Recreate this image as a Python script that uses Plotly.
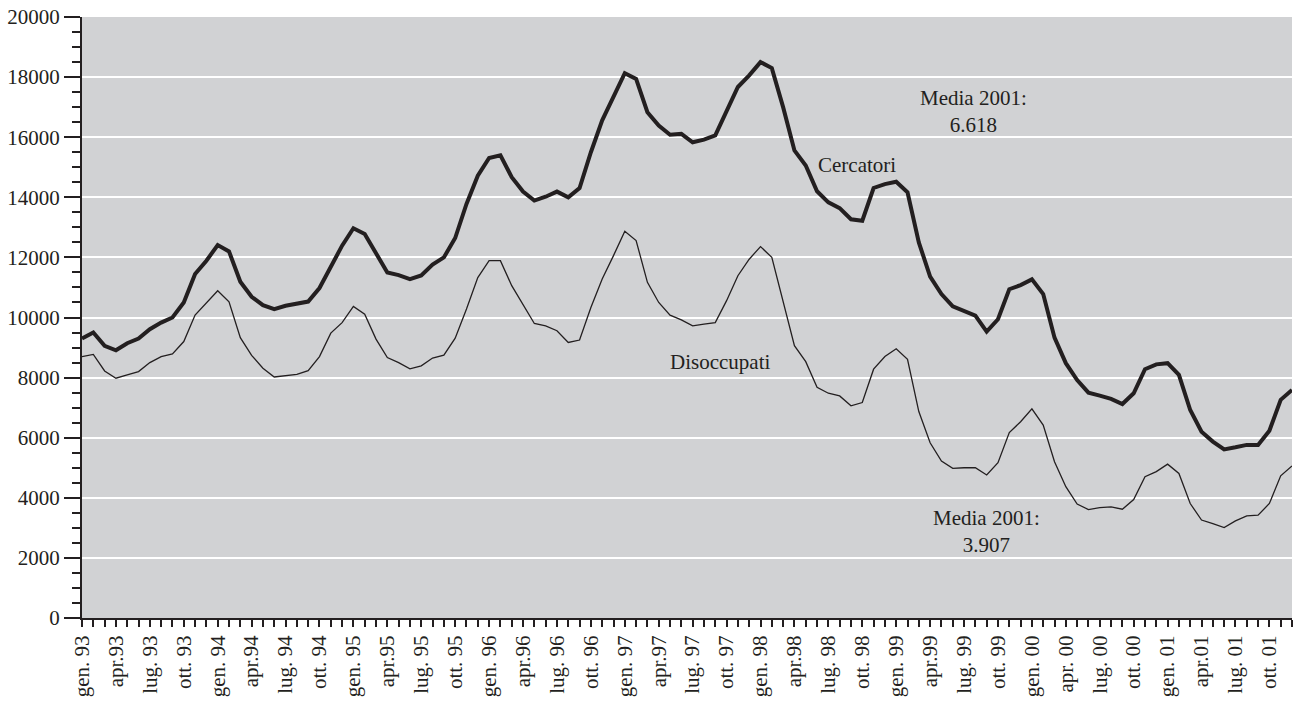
import plotly.graph_objects as go

# Monthly data, gen. 1993 - dic. 2001
cercatori = [
    9300, 9500, 9055, 8910, 9145, 9300, 9610, 9830, 10000, 10500, 11445, 11890,
    12410, 12200, 11190, 10690, 10410, 10280, 10390, 10445, 10530, 10980, 11700, 12390,
    12970, 12780, 12140, 11500, 11410, 11280, 11400, 11760, 12000, 12645, 13780, 14720,
    15310, 15400, 14670, 14190, 13890, 14020, 14190, 14000, 14310, 15500, 16560, 17330,
    18130, 17940, 16830, 16390, 16080, 16110, 15830, 15920, 16060, 16870, 17670, 18060,
    18500, 18300, 17000, 15560, 15060, 14200, 13830, 13640, 13270, 13220, 14310, 14440,
    14520, 14170, 12500, 11360, 10780, 10370, 10220, 10060, 9530, 9940, 10940, 11080,
    11270, 10780, 9330, 8480, 7920, 7500, 7400, 7290, 7120, 7480, 8280, 8440,
    8480, 8090, 6920, 6200, 5870, 5610, 5680, 5760, 5760, 6230, 7260, 7590,
]
disoccupati = [
    8700, 8770, 8220, 7980, 8090, 8200, 8500, 8700, 8790, 9200, 10080, 10500,
    10890, 10520, 9330, 8740, 8310, 8020, 8070, 8110, 8230, 8700, 9480, 9830,
    10370, 10110, 9280, 8670, 8500, 8290, 8390, 8650, 8745, 9310, 10280, 11330,
    11890, 11890, 11060, 10440, 9800, 9720, 9560, 9170, 9250, 10330, 11280, 12060,
    12870, 12560, 11170, 10500, 10080, 9920, 9720, 9780, 9830, 10560, 11390, 11940,
    12360, 12000, 10560, 9060, 8530, 7680, 7480, 7390, 7060, 7170, 8280, 8700,
    8960, 8610, 6870, 5830, 5220, 4980, 5000, 5000, 4760, 5170, 6170, 6530,
    6960, 6420, 5200, 4370, 3790, 3610, 3670, 3700, 3620, 3940, 4700, 4870,
    5120, 4810, 3810, 3260, 3140, 3010, 3230, 3400, 3420, 3810, 4730, 5060,
]
quarter_labels = [
    "gen. 93", "apr.93", "lug. 93", "ott. 93",
    "gen. 94", "apr.94", "lug. 94", "ott. 94",
    "gen. 95", "apr.95", "lug. 95", "ott. 95",
    "gen. 96", "apr.96", "lug. 96", "ott. 96",
    "gen. 97", "apr.97", "lug. 97", "ott. 97",
    "gen. 98", "apr.98", "lug. 98", "ott. 98",
    "gen. 99", "apr.99", "lug. 99", "ott. 99",
    "gen. 00", "apr. 00", "lug. 00", "ott. 00",
    "gen. 01", "apr.01", "lug. 01", "ott. 01",
]

months = list(range(len(cercatori)))
ticktext = [quarter_labels[i // 3] if i % 3 == 0 else "" for i in months]

INK = "#231f20"
FONT = "Liberation Serif"
FS = 21

fig = go.Figure()
fig.add_trace(go.Scatter(x=months, y=disoccupati, mode="lines",
                         line=dict(color=INK, width=1.3), name="Disoccupati"))
fig.add_trace(go.Scatter(x=months, y=cercatori, mode="lines",
                         line=dict(color=INK, width=4), name="Cercatori"))

ann_font = dict(family=FONT, size=FS, color=INK)
fig.add_annotation(x=64.9, y=15070, text="Cercatori", showarrow=False,
                   xanchor="left", yanchor="middle", font=ann_font)
fig.add_annotation(x=51.8, y=8530, text="Disoccupati", showarrow=False,
                   xanchor="left", yanchor="middle", font=ann_font)
fig.add_annotation(x=78.8, y=16850, text="Media 2001:<br>6.618", showarrow=False,
                   xanchor="center", yanchor="middle", font=ann_font, align="center")
fig.add_annotation(x=80.0, y=2870, text="Media 2001:<br>3.907", showarrow=False,
                   xanchor="center", yanchor="middle", font=ann_font, align="center")

fig.update_layout(
    width=1295, height=702,
    margin=dict(l=82, r=3, t=17, b=84, autoexpand=False),
    paper_bgcolor="white",
    plot_bgcolor="#d1d2d4",
    showlegend=False,
    font=dict(family=FONT, size=FS, color=INK),
)
fig.update_xaxes(
    range=[0, len(months) - 1],
    tickmode="array", tickvals=months, ticktext=ticktext,
    tickangle=-90, ticks="outside", ticklen=7, tickwidth=1.5, tickcolor=INK,
    showgrid=False, zeroline=False, automargin=False,
    showline=True, linecolor=INK, linewidth=2,
    tickfont=dict(family=FONT, size=FS, color=INK),
)
fig.update_yaxes(
    range=[0, 20000], dtick=2000, tick0=0, tickformat="d",
    ticks="outside", ticklen=16, tickwidth=2, tickcolor=INK,
    minor=dict(dtick=500, ticks="outside", ticklen=8, tickwidth=1.5, tickcolor=INK, showgrid=False),
    showgrid=True, gridcolor="white", gridwidth=2,
    zeroline=False, automargin=False,
    showline=True, linecolor=INK, linewidth=2,
    tickfont=dict(family=FONT, size=FS, color=INK),
)

fig.write_html("out.html",
               config={"displayModeBar": False},
               post_script="document.body.style.margin='0';document.body.style.overflow='hidden';")
